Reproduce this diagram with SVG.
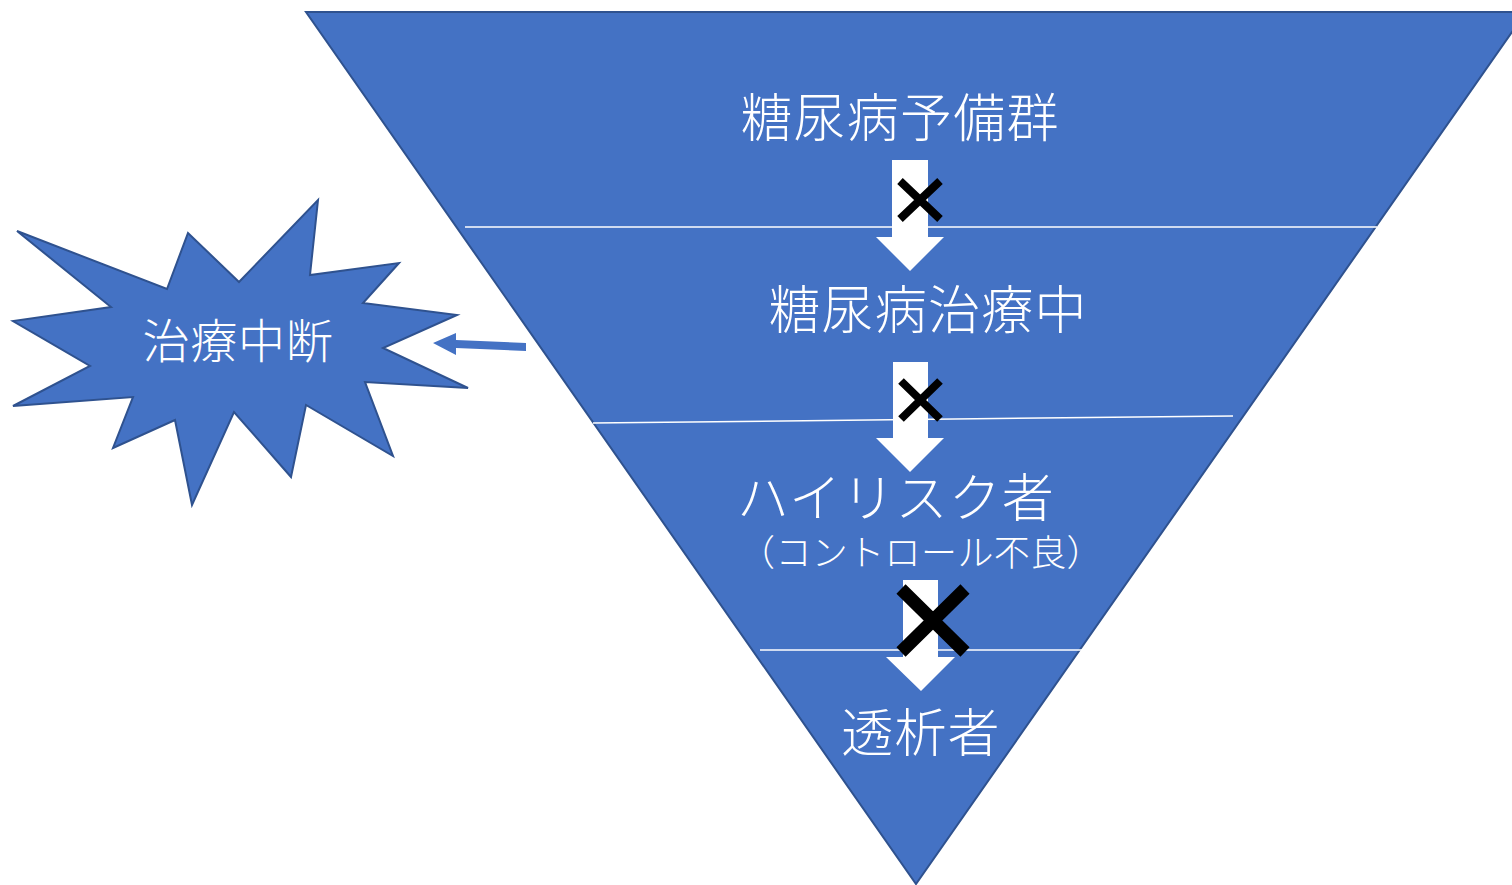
<svg xmlns="http://www.w3.org/2000/svg" width="1512" height="885" viewBox="0 0 1512 885">
<style>
.shape{fill:#4472C4;stroke:#2F528F;stroke-width:2;stroke-linejoin:miter}
.sep{stroke:#FFFFFF;stroke-width:1.5;fill:none}
.wa{fill:#FFFFFF;stroke:none}
.x{stroke:#000000;fill:none;stroke-linecap:butt}
.t{fill:#FFFFFF;font-family:"Noto Sans CJK JP","Noto Sans CJK SC",sans-serif;font-weight:300;text-anchor:middle}
.big{font-size:52px;letter-spacing:1.2px}
</style>
<rect width="1512" height="885" fill="#FFFFFF"/>
<g id="pyramid">
<polygon class="shape" points="306,12 1526,12 916,884"/>
<line class="sep" x1="465" y1="227" x2="1377" y2="227"/>
<line class="sep" x1="593" y1="423" x2="1233" y2="416"/>
<line class="sep" x1="760" y1="650" x2="1083" y2="650"/>
</g>
<g id="level1">
<text class="t big" x="900" y="137">糖尿病予備群</text>
</g>
<g id="level2">
<text class="t big" x="928" y="329">糖尿病治療中</text>
</g>
<g id="level3">
<text class="t big" x="896" y="517">ハイリスク者</text>
<text class="t" x="921" y="566" font-size="36" letter-spacing="0.4">（コントロール不良）</text>
</g>
<g id="level4">
<text class="t big" x="921" y="752">透析者</text>
</g>
<g id="burst">
<polygon class="shape" points="17,231 167,289 188,233 239,282 318,200 310,275 399,263 363,303 457,315 383,348 468,388 365,382 393,456 306,405 291,477 234,412 192,505 175,420 113,448 133,397 13,406 90,366 13,321 111,307"/>
<text class="t" x="238" y="358" font-size="47" letter-spacing="0.8">治療中断</text>
</g>
<g id="connectors">
<polygon class="wa" points="892,160 928,160 928,237 944,237 910,271 876,237 892,237"/>
<polygon class="wa" points="893,362 928,362 928,438 944,438 910,472 876,438 893,438"/>
<polygon class="wa" points="903,580 938,580 938,657 955,657 921,691 886,657 903,657"/>
<path class="x" stroke-width="8" d="M900,181 L940,219 M940,181 L900,219"/>
<path class="x" stroke-width="8" d="M901,381 L940,419 M940,381 L901,419"/>
<path class="x" stroke-width="13" d="M901,589 L965,652 M965,589 L901,652"/>
<polygon fill="#4472C4" points="433,343 456,333 456,340 526,343 526,351 456,348 456,355"/>
</g>
</svg>
